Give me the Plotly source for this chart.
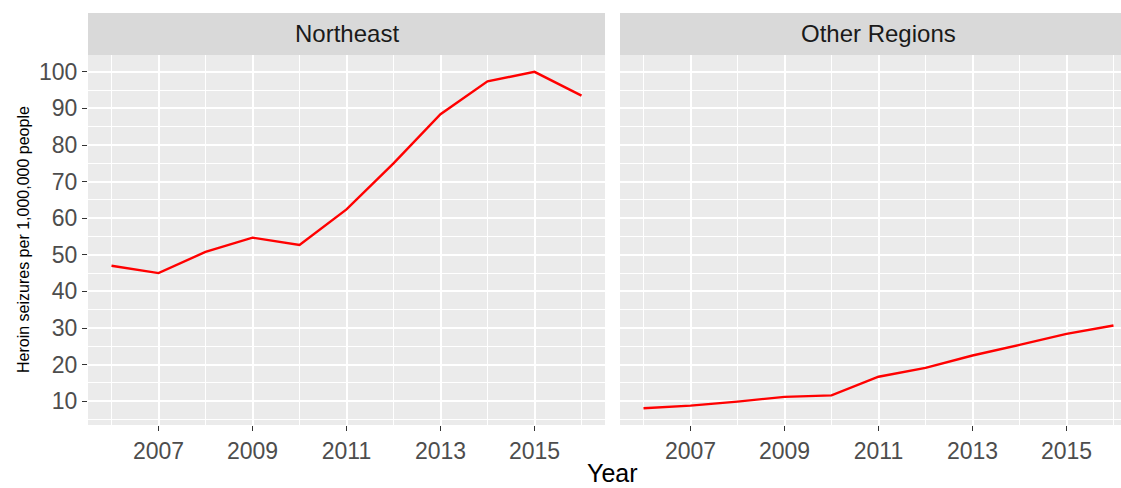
import plotly.graph_objects as go

years = [2006, 2007, 2008, 2009, 2010, 2011, 2012, 2013, 2014, 2015, 2016]
northeast = [47.0, 45.0, 50.8, 54.7, 52.7, 62.4, 75.0, 88.4, 97.4, 100.0, 93.5]
other_regions = [8.1, 8.8, 9.9, 11.2, 11.6, 16.7, 19.1, 22.5, 25.4, 28.4, 30.7]
panels = ["Northeast", "Other Regions"]
y_ticks = [10, 20, 30, 40, 50, 60, 70, 80, 90, 100]
x_ticks = [2007, 2009, 2011, 2013, 2015]

FONT = "Liberation Sans, Arial, sans-serif"
W, H = 1121, 488
ml, mr, mt, mb = 88, 0, 13, 63
pw, ph = W - ml - mr, H - mt - mb
panel_top = 55
ydom_top = (H - mb - panel_top) / ph
left_w = 605 - ml
xd1 = [0, left_w / pw]
xd2 = [(620 - ml) / pw, 1]

fig = go.Figure()
series = [northeast, other_regions]
for i, vals in enumerate(series):
    fig.add_trace(go.Scatter(x=years, y=vals, mode="lines",
                             line=dict(color="#FF0000", width=2.4),
                             xaxis="x" if i == 0 else "x2",
                             yaxis="y" if i == 0 else "y2",
                             showlegend=False, hoverinfo="x+y"))

ymin = min(min(northeast), min(other_regions))
ymax = max(max(northeast), max(other_regions))
pad = (ymax - ymin) * 0.05
yr = [ymin - pad, ymax + pad]
xr = [years[0] - 0.5, years[-1] + 0.5]
# right panel is cropped by the picture edge (same scale as left panel)
px_per_year = left_w / (xr[1] - xr[0])
right_w = W - mr - 620
xr2 = [xr[0], xr[0] + right_w / px_per_year]

common_x = dict(tickvals=x_ticks, ticktext=[str(t) for t in x_ticks],
                showgrid=True, gridcolor="white", gridwidth=1.6, zeroline=False,
                ticks="outside", ticklen=5, tickwidth=1.3, tickcolor="#333333",
                tickfont=dict(family=FONT, size=23, color="#4D4D4D"),
                minor=dict(tickvals=[2006, 2008, 2010, 2012, 2014, 2016], showgrid=True,
                           gridcolor="white", gridwidth=0.8, ticks=""),
                showline=False, fixedrange=True)
common_y = dict(range=yr, tickvals=y_ticks, showgrid=True, gridcolor="white", gridwidth=1.6,
                zeroline=False, domain=[0, ydom_top],
                minor=dict(tickvals=[5, 15, 25, 35, 45, 55, 65, 75, 85, 95, 105], showgrid=True,
                           gridcolor="white", gridwidth=0.8, ticks=""),
                showline=False, fixedrange=True)

fig.update_layout(
    width=W, height=H,
    margin=dict(l=ml, r=mr, t=mt, b=mb),
    paper_bgcolor="white", plot_bgcolor="#EBEBEB",
    xaxis=dict(domain=xd1, anchor="y", range=xr, **common_x),
    xaxis2=dict(domain=xd2, anchor="y2", range=xr2, **common_x),
    yaxis=dict(anchor="x", ticks="outside", ticklen=5, tickwidth=1.3, tickcolor="#333333",
               tickfont=dict(family=FONT, size=23, color="#4D4D4D"), **common_y),
    yaxis2=dict(anchor="x2", showticklabels=False, ticks="", **common_y),
    showlegend=False,
)

strip_centers = [(605 + ml) / 2, 620 + left_w / 2]
for dom, name, cx in zip([xd1, xd2], panels, strip_centers):
    fig.add_shape(type="rect", xref="paper", yref="paper",
                  x0=dom[0], x1=dom[1], y0=ydom_top, y1=1.0,
                  fillcolor="#D9D9D9", line=dict(width=0), layer="below")
    fig.add_annotation(text=name, xref="paper", yref="paper",
                       x=(cx - ml) / pw, y=(ydom_top + 1) / 2,
                       showarrow=False, xanchor="center", yanchor="middle",
                       font=dict(family=FONT, size=24, color="#1A1A1A"))

fig.add_annotation(text="Year", xref="paper", yref="paper",
                   x=(612 - ml) / pw, y=-(473 - (H - mb)) / ph,
                   showarrow=False, xanchor="center", yanchor="middle",
                   font=dict(family=FONT, size=25, color="black"))
fig.add_annotation(text="Heroin seizures per 1,000,000 people", xref="paper", yref="paper",
                   x=-(ml - 23) / pw, y=((H - mb) - 240) / ph, textangle=-90,
                   showarrow=False, xanchor="center", yanchor="middle",
                   font=dict(family=FONT, size=16, color="black"))

fig.write_html("out.html", config={"displayModeBar": False},
               post_script="document.body.style.margin='0';document.body.style.overflow='hidden';")
